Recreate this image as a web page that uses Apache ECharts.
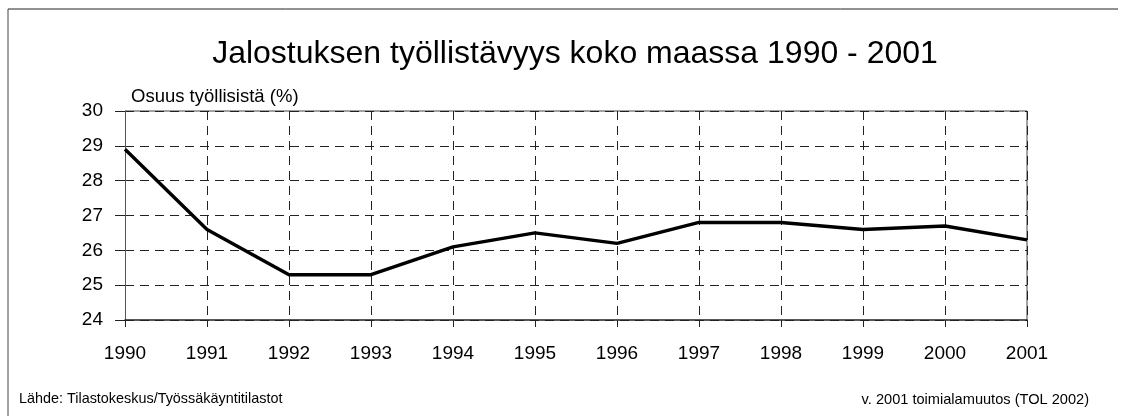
<!DOCTYPE html>
<html>
<head>
<meta charset="utf-8">
<script src="https://cdn.jsdelivr.net/npm/echarts@6/dist/echarts.min.js"></script>
<style>
  html, body { margin: 0; padding: 0; background: #fff; }
  #chart { width: 1122px; height: 416px; }
</style>
</head>
<body>
<div id="chart"></div>
<script>
// Jalostuksen osuus työllisistä, koko maa
const years = ['1990', '1991', '1992', '1993', '1994', '1995', '1996', '1997', '1998', '1999', '2000', '2001'];
const share = [28.9, 26.6, 25.3, 25.3, 26.1, 26.5, 26.2, 26.8, 26.8, 26.6, 26.7, 26.3];
const yMin = 24;
const yMax = 30;
const yStep = 1;

const FONT = '"Liberation Sans", Arial, sans-serif';
const chart = echarts.init(document.getElementById('chart'));

chart.setOption({
  animation: false,
  backgroundColor: '#fff',
  title: {
    text: 'Jalostuksen työllistävyys koko maassa 1990 - 2001',
    left: 570,
    textAlign: 'center',
    top: 33,
    textStyle: { fontFamily: FONT, fontSize: 32, fontWeight: 'normal', color: '#000' }
  },
  grid: { left: 125, right: 95, top: 111, bottom: 96 },
  xAxis: {
    type: 'category',
    data: years,
    boundaryGap: false,
    axisLine: { lineStyle: { color: '#222', width: 1.5 } },
    axisTick: { show: true, length: 12, lineStyle: { color: '#222', type: [7, 5] } },
    axisLabel: { fontFamily: FONT, fontSize: 19, color: '#000', margin: 24 },
    splitLine: { show: true, lineStyle: { color: '#222', type: [9, 6], width: 1 } }
  },
  yAxis: {
    type: 'value',
    min: yMin,
    max: yMax,
    interval: yStep,
    axisLine: { show: true, lineStyle: { color: '#555', width: 1 } },
    axisTick: { show: true, length: 10, lineStyle: { color: '#222' } },
    axisLabel: { fontFamily: FONT, fontSize: 19, color: '#000', margin: 22 },
    splitLine: { show: true, lineStyle: { color: '#222', type: [9, 6], width: 1 } }
  },
  series: [{
    type: 'line',
    data: share,
    symbol: 'none',
    lineStyle: { color: '#000', width: 3.4 },
    z: 5
  }],
  graphic: [
    // frame of the plot area: solid top and right edges
    { type: 'line', shape: { x1: 125, y1: 111, x2: 1027, y2: 111 }, style: { stroke: '#444', lineWidth: 1 } },
    { type: 'line', shape: { x1: 1027, y1: 111, x2: 1027, y2: 320 }, style: { stroke: '#444', lineWidth: 1 } },
    // outer border (top and left)
    { type: 'line', shape: { x1: 8, y1: 9, x2: 1118, y2: 9 }, style: { stroke: '#222', lineWidth: 1 } },
    { type: 'line', shape: { x1: 8, y1: 9, x2: 8, y2: 416 }, style: { stroke: '#444', lineWidth: 1 } },
    // y-axis caption
    {
      type: 'text', left: 131, top: 87,
      style: { text: 'Osuus työllisistä (%)', font: '18.5px ' + FONT, fill: '#000' }
    },
    {
      type: 'text', left: 19, top: 392,
      style: { text: 'Lähde: Tilastokeskus/Työssäkäyntitilastot', font: '14.4px ' + FONT, fill: '#000' }
    },
    {
      type: 'text', right: 1122 - 1089, top: 392,
      style: { text: 'v. 2001 toimialamuutos (TOL 2002)', font: '14.6px ' + FONT, fill: '#000', textAlign: 'right' }
    }
  ]
});
</script>
</body>
</html>
